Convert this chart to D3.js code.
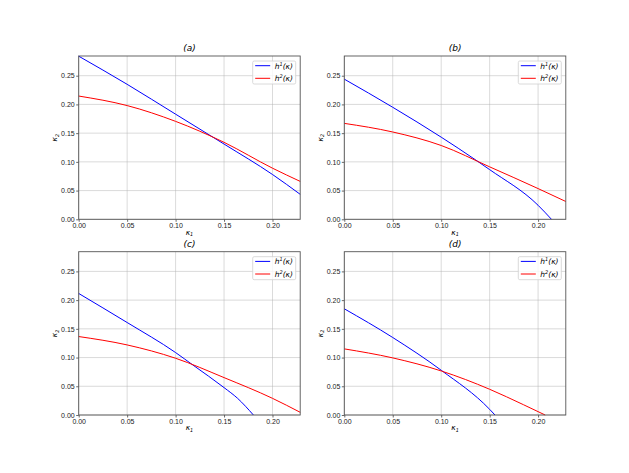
<!DOCTYPE html>
<html>
<head>
<meta charset="utf-8">
<script src="https://cdn.jsdelivr.net/npm/d3@7"></script>
<style>
  body { margin: 0; background: #fff; }
  svg { display: block; font-family: 'DejaVu Sans', sans-serif; }
  .tick text { font-size: 7px; fill: #222; }
  .grid line { stroke: #b0b0b0; stroke-opacity: 0.6; stroke-width: 0.8; }
</style>
</head>
<body>
<div id="chart-area"></div>
<script>
// Data (kappa_1, kappa_2)
let titles = ['a', 'b', 'c', 'd'];

let h1X = [
  [0, 0.05, 0.10, 0.15, 0.20, 0.2286],
  [0, 0.05, 0.10, 0.135, 0.15, 0.20, 0.2138],
  [0, 0.05, 0.10, 0.1177, 0.15, 0.164, 0.1803],
  [0, 0.05, 0.10, 0.15, 0.1555]
];
let h1Y = [
  [0.284, 0.235, 0.183, 0.131, 0.078, 0.0435],
  [0.244, 0.195, 0.143, 0.104, 0.0865, 0.0244, 0],
  [0.2116, 0.161, 0.1087, 0.0872, 0.0477, 0.029, 0],
  [0.1849, 0.1349, 0.0779, 0.0099, 0]
];

let h2X = [
  [0, 0.05, 0.10, 0.15, 0.20, 0.2286],
  [0, 0.05, 0.10, 0.15, 0.20, 0.2286],
  [0, 0.05, 0.10, 0.15, 0.20, 0.2286],
  [0, 0.05, 0.10, 0.15, 0.1848, 0.2073]
];
let h2Y = [
  [0.2146, 0.198, 0.1705, 0.134, 0.089, 0.066],
  [0.167, 0.152, 0.1285, 0.0913, 0.0535, 0.031],
  [0.1366, 0.122, 0.0988, 0.0651, 0.029, 0.0047],
  [0.1151, 0.0994, 0.0767, 0.0448, 0.018, 0]
];

let xTicks = [0, 0.05, 0.10, 0.15, 0.20];
let yTicks = [0, 0.05, 0.10, 0.15, 0.20, 0.25];
let xMax = 0.2286, yMax = 0.2843;

// SVG drawing area
let W = 629, H = 473;
let panelLeft = [78.7, 344.3], panelTop = [56, 251.7];
let width = 221.5, height = 163.3;

let svg = d3
  .select('#chart-area')
  .append('svg')
  .attr('width', W)
  .attr('height', H);

// Scales (same for all panels)
let x = d3.scaleLinear().domain([0, xMax]).range([0, width]);
let y = d3.scaleLinear().domain([0, yMax]).range([height, 0]);

let line = d3
  .line()
  .x(d => x(d[0]))
  .y(d => y(d[1]))
  .curve(d3.curveMonotoneX);

titles.forEach((t, i) => {
  let g = svg
    .append('g')
    .attr('transform', 'translate(' + panelLeft[i % 2] + ',' + panelTop[Math.floor(i / 2)] + ')');

  // grid
  g.append('g')
    .attr('class', 'grid')
    .selectAll('line.gx')
    .data(xTicks)
    .enter()
    .append('line')
    .attr('x1', d => x(d)).attr('x2', d => x(d))
    .attr('y1', 0).attr('y2', height);
  g.append('g')
    .attr('class', 'grid')
    .selectAll('line.gy')
    .data(yTicks)
    .enter()
    .append('line')
    .attr('y1', d => y(d)).attr('y2', d => y(d))
    .attr('x1', 0).attr('x2', width);

  // curves
  let d1 = h1X[i].map((v, j) => [v, h1Y[i][j]]);
  let d2 = h2X[i].map((v, j) => [v, h2Y[i][j]]);
  g.append('path').datum(d1).attr('d', line)
    .attr('fill', 'none').attr('stroke', '#0000ff').attr('stroke-width', 1);
  g.append('path').datum(d2).attr('d', line)
    .attr('fill', 'none').attr('stroke', '#ff0000').attr('stroke-width', 1);

  // Axis
  let xAxis = d3.axisBottom(x).tickValues(xTicks).tickFormat(d3.format('.2f')).tickSize(2.5).tickPadding(1.5);
  let yAxis = d3.axisLeft(y).tickValues(yTicks).tickFormat(d3.format('.2f')).tickSize(2.5).tickPadding(1.5);
  let xg = g.append('g').attr('transform', 'translate(0,' + height + ')').call(xAxis);
  let yg = g.append('g').call(yAxis);
  [xg, yg].forEach(a => {
    a.select('.domain').remove();
    a.selectAll('.tick line').attr('stroke', '#444').attr('stroke-width', 0.8);
  });

  // frame
  g.append('rect')
    .attr('width', width).attr('height', height)
    .attr('fill', 'none').attr('stroke', '#555').attr('stroke-width', 0.9);

  // labels
  g.append('text')
    .attr('x', width / 2).attr('y', height + 15.5)
    .attr('text-anchor', 'middle').attr('font-size', 7.5).attr('font-style', 'italic')
    .html('κ<tspan font-size="5" dy="1.5">1</tspan>');
  g.append('text')
    .attr('transform', 'translate(-21.5,' + height / 2 + ') rotate(-90)')
    .attr('text-anchor', 'middle').attr('font-size', 7.5).attr('font-style', 'italic')
    .html('κ<tspan font-size="5" dy="1.5">2</tspan>');
  g.append('text')
    .attr('x', width / 2).attr('y', -5)
    .attr('text-anchor', 'middle').attr('font-size', 9).attr('font-style', 'italic')
    .text('(' + t + ')');

  // legend
  let lg = g.append('g').attr('transform', 'translate(' + (width - 47.5) + ',5)');
  lg.append('rect')
    .attr('width', 43).attr('height', 23).attr('rx', 1.5)
    .attr('fill', '#fff').attr('fill-opacity', 0.8)
    .attr('stroke', '#d0d0d0').attr('stroke-width', 0.8);
  [['#0000ff', '1'], ['#ff0000', '2']].forEach((s, k) => {
    let yy = 4.7 + k * 12.6;
    lg.append('line')
      .attr('x1', 2.5).attr('x2', 17.5).attr('y1', yy).attr('y2', yy)
      .attr('stroke', s[0]).attr('stroke-width', 1);
    lg.append('text')
      .attr('x', 22).attr('y', yy + 2.8)
      .attr('font-size', 7.5).attr('font-style', 'italic')
      .html('h<tspan font-size="5" dy="-3">' + s[1] + '</tspan><tspan dy="3">(κ)</tspan>');
  });
});
</script>
</body>
</html>
